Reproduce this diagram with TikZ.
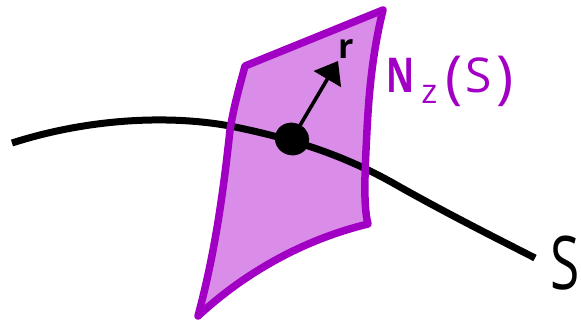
\documentclass[tikz,border=0pt]{standalone}
\usepackage{fontspec}
\setmainfont{Open Sans}
\usepackage{tikz}
\usetikzlibrary{arrows.meta,positioning,shapes.geometric}
\definecolor{patchc}{HTML}{A100C4}
\definecolor{patchf}{HTML}{D98DE8}
\newcommand{\patchpath}{(245,66) -- (383,10)
    .. controls (373,50) and (369,90) .. (367,130)
    .. controls (365,170) and (363,205) .. (368,224)
    .. controls (310,238) and (250,268) .. (198,316)
    .. controls (213,260) and (222,205) .. (230,130)
    .. controls (234,105) and (240,85) .. (245,66) -- cycle}

\begin{document}
\begin{tikzpicture}[
    x=1pt, y=-1pt,
    curvestroke/.style={black, line width=7pt},
    patchstroke/.style={draw=patchc, line width=7.5pt, line join=round},
    vec/.style={black, line width=3.6pt},
    lbl/.style={inner sep=0pt, anchor=base west}
  ]
  \useasboundingbox (0,0) rectangle (581,325);

  % --- normal space patch
  \fill[patchf] \patchpath;

  % --- curve S
  \coordinate (sa) at (12,143);
  \coordinate (sb) at (535,258);
  \draw[curvestroke] (sa)
    .. controls (90,118) and (170,115) .. (230,126)
    .. controls (300,140) and (350,158) .. (400,187)
    .. controls (450,215) and (490,235) .. (sb);

  % --- patch outline
  \draw[patchstroke] \patchpath;

  % --- point and normal vector
  \node[draw=black, fill=black, ellipse, minimum width=34pt, minimum height=32pt, inner sep=0pt, rotate=-20] at (292,139) (pt) {};
  \coordinate (tip) at (338,61);
  \draw[vec, -{Triangle[length=21pt, width=31pt]}] (pt.center) -- (tip);

  % --- labels
  \node[lbl, font=\fontsize{34}{34}\selectfont\bfseries] at (338,58) (rlab) {r};
  \node[lbl, text=patchc, font=\fontsize{48}{48}\selectfont] at (386,92) (nlab)
    {\scalebox{.72}[1]{\bfseries N}\kern7pt\raisebox{-11pt}{\fontsize{34}{34}\selectfont z}\kern8pt\raisebox{-5pt}{\fontsize{58}{58}\selectfont(}\kern3pt S\kern5pt\raisebox{-5pt}{\fontsize{58}{58}\selectfont)}};
  \node[lbl, font=\fontsize{74}{74}\selectfont] at (550,289) (slab) {\scalebox{.72}[1]{S}};
\end{tikzpicture}
\end{document}
